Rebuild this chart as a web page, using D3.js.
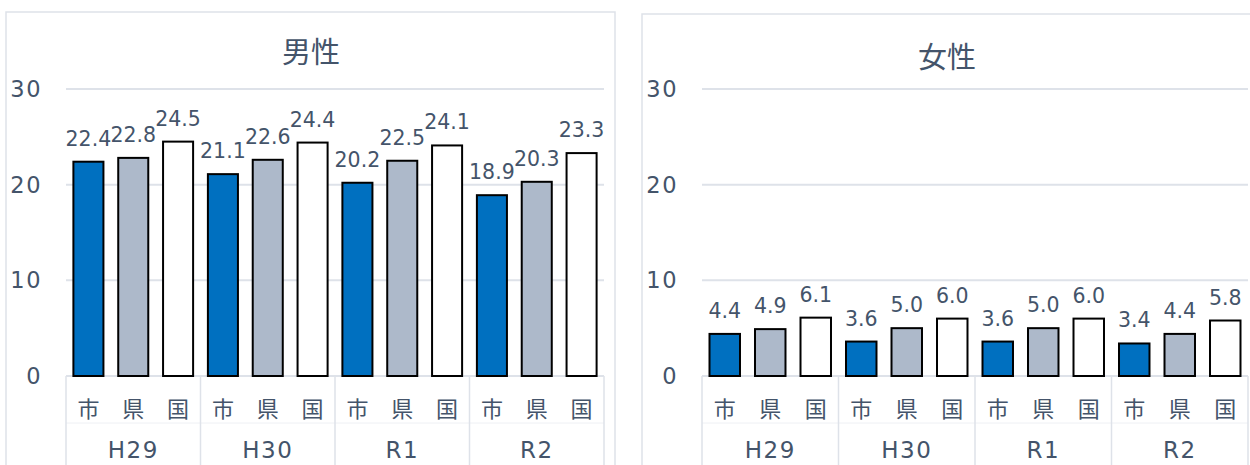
<!DOCTYPE html>
<html>
<head>
<meta charset="utf-8">
<script src="https://cdn.jsdelivr.net/npm/d3@7"></script>
<style>
  html, body { margin: 0; padding: 0; background: #fff; }
  svg { display: block; }
</style>
</head>
<body>
<svg id="chart" width="1250" height="465"></svg>
<script>
const years = ["H29", "H30", "R1", "R2"];
const areas = ["市", "県", "国"];
const yTicks = [0, 10, 20, 30];

const maleCity = [22.4, 21.1, 20.2, 18.9];
const malePref = [22.8, 22.6, 22.5, 20.3];
const maleNation = [24.5, 24.4, 24.1, 23.3];

const femaleCity = [4.4, 3.6, 3.6, 3.4];
const femalePref = [4.9, 5.0, 5.0, 4.4];
const femaleNation = [6.1, 6.0, 6.0, 5.8];

const areaColors = ["#0070C0", "#ADB9CA", "#FFFFFF"];
const textColor = "#44546A";
const gridColor = "#DEE2E9";
const numFont = "'DejaVu Sans', sans-serif";
const cjkFont = "'Noto Sans CJK JP', sans-serif";

const svg = d3.select("#chart");

function drawPanel(cfg) {
  const { box, x0, x1, title, titleX, titleY, series, labelRight } = cfg;
  const g = svg.append("g");

  g.append("rect")
    .attr("x", box[0]).attr("y", box[1])
    .attr("width", box[2]).attr("height", box[3])
    .attr("fill", "none").attr("stroke", gridColor).attr("stroke-width", 1.5);

  g.append("text")
    .attr("x", titleX).attr("y", titleY)
    .attr("text-anchor", "middle").attr("dominant-baseline", "central")
    .attr("font-family", cjkFont).attr("font-size", 29)
    .attr("fill", textColor).text(title);

  const y = d3.scaleLinear().domain([0, 30]).range([376, 89]);
  const xg = d3.scaleBand().domain(years).range([x0, x1]).padding(0);
  const xa = d3.scaleBand().domain(areas).range([0, xg.bandwidth()])
    .paddingInner(0.33).paddingOuter(0.165);

  g.selectAll("line.grid").data(yTicks).join("line")
    .attr("class", "grid")
    .attr("x1", x0).attr("x2", x1)
    .attr("y1", d => y(d)).attr("y2", d => y(d))
    .attr("stroke", gridColor).attr("stroke-width", 2);

  g.selectAll("text.ytick").data(yTicks).join("text")
    .attr("class", "ytick")
    .attr("x", labelRight).attr("y", d => y(d))
    .attr("text-anchor", "end").attr("dominant-baseline", "central")
    .attr("font-family", numFont).attr("font-size", 22.5)
    .attr("letter-spacing", 1.5)
    .attr("fill", textColor).text(d => d);

  const rows = [];
  years.forEach((yr, i) => {
    areas.forEach((a, j) => {
      rows.push({ yr, a, j, v: series[j][i] });
    });
  });

  g.selectAll("rect.bar").data(rows).join("rect")
    .attr("class", "bar")
    .attr("x", d => xg(d.yr) + xa(d.a))
    .attr("width", xa.bandwidth())
    .attr("y", d => y(d.v))
    .attr("height", d => y(0) - y(d.v))
    .attr("fill", d => areaColors[d.j])
    .attr("stroke", "#000").attr("stroke-width", 2);

  g.selectAll("text.val").data(rows).join("text")
    .attr("class", "val")
    .attr("x", d => xg(d.yr) + xa(d.a) + xa.bandwidth() / 2)
    .attr("y", d => y(d.v) - 16)
    .attr("text-anchor", "middle")
    .attr("font-family", numFont).attr("font-size", 20.5)
    .attr("fill", textColor).text(d => d.v.toFixed(1));

  g.append("line")
    .attr("x1", x0).attr("x2", x1).attr("y1", 423).attr("y2", 423)
    .attr("stroke", "#EEF0F4").attr("stroke-width", 1);
  const seps = years.map(yr => xg(yr)).concat([x1]);
  g.selectAll("line.sep").data(seps).join("line")
    .attr("class", "sep")
    .attr("x1", d => d).attr("x2", d => d)
    .attr("y1", 376).attr("y2", 465)
    .attr("stroke", gridColor).attr("stroke-width", 1.5);

  g.selectAll("text.cat").data(rows).join("text")
    .attr("class", "cat")
    .attr("x", d => xg(d.yr) + xa(d.a) + xa.bandwidth() / 2)
    .attr("y", 407)
    .attr("text-anchor", "middle").attr("dominant-baseline", "central")
    .attr("font-family", cjkFont).attr("font-size", 22)
    .attr("fill", textColor).text(d => d.a);

  g.selectAll("text.grp").data(years).join("text")
    .attr("class", "grp")
    .attr("x", d => xg(d) + xg.bandwidth() / 2)
    .attr("y", 450)
    .attr("text-anchor", "middle").attr("dominant-baseline", "central")
    .attr("font-family", numFont).attr("font-size", 23)
    .attr("letter-spacing", 1.5)
    .attr("fill", textColor).text(d => d);
}

drawPanel({
  box: [6, 12, 609, 470], x0: 66, x1: 604,
  title: "男性", titleX: 311, titleY: 50,
  series: [maleCity, malePref, maleNation], labelRight: 42
});

drawPanel({
  box: [642, 14, 620, 470], x0: 702, x1: 1248,
  title: "女性", titleX: 947, titleY: 55,
  series: [femaleCity, femalePref, femaleNation], labelRight: 678
});
</script>
</body>
</html>
